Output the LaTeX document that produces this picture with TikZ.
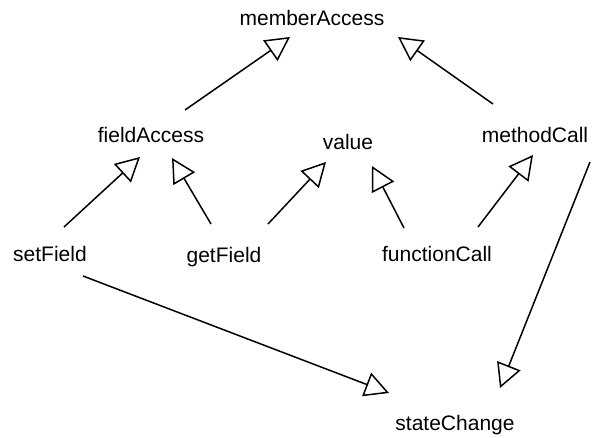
\documentclass[tikz,border=0pt]{standalone}
\usepackage{fontspec}
\setmainfont{Liberation Sans}
\usetikzlibrary{arrows.meta,calc}
\begin{document}
\begin{tikzpicture}[x=1pt,y=-1pt,
  lbl/.style={anchor=base,inner sep=0pt,font=\fontsize{21}{25}\selectfont},
  inh/.style={draw,line width=1.5pt,-{Triangle[open,length=24pt,width=25pt]}}]
\useasboundingbox[fill=white] (0,0) rectangle (592,438);
\node[lbl] (memberAccess) at (312,26) {memberAccess};
\node[lbl] (fieldAccess) at (151,143) {fieldAccess};
\node[lbl] (value) at (348,150) {value};
\node[lbl] (methodCall) at (535,143) {methodCall};
\node[lbl] (setField) at (50,262) {setField};
\node[lbl] (getField) at (224,263) {getField};
\node[lbl] (functionCall) at (437,262) {functionCall};
\node[lbl] (stateChange) at (455,430) {stateChange};
\draw[inh] ($(fieldAccess.base)+(34,-33)$) -- ($(memberAccess.base)+(-22,11)$);
\draw[inh] ($(methodCall.base)+(-42,-39)$) -- ($(memberAccess.base)+(86,11)$);
\draw[inh] ($(setField.base)+(14,-35)$) -- ($(fieldAccess.base)+(-11,14)$);
\draw[inh] ($(getField.base)+(-13,-39)$) -- ($(fieldAccess.base)+(21,15)$);
\draw[inh] ($(getField.base)+(44,-39)$) -- ($(value.base)+(-22,12)$);
\draw[inh] ($(functionCall.base)+(-33,-34)$) -- ($(value.base)+(24,16)$);
\draw[inh] ($(functionCall.base)+(41,-35)$) -- ($(methodCall.base)+(-2,12)$);
\draw[inh] ($(methodCall.base)+(55,19)$) -- ($(stateChange.base)+(45,-42)$);
\draw[inh] ($(setField.base)+(33,14)$) -- ($(stateChange.base)+(-66,-37)$);
\end{tikzpicture}
\end{document}
